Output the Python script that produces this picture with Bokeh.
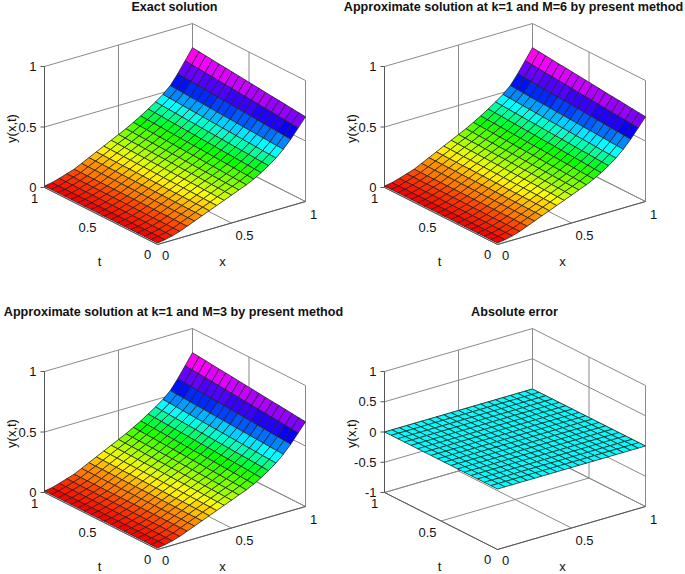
import colorsys
import numpy as np
from bokeh.plotting import figure
from bokeh.layouts import row, column
from bokeh.models import ColumnDataSource
from bokeh.core.properties import value
from bokeh.embed import file_html
from bokeh.resources import INLINE

titles = ["Exact solution", "Approximate solution at k=1 and M=6 by present method",
          "Approximate solution at k=1 and M=3 by present method", "Absolute error"]
x_nodes = [i / 20 for i in range(21)]
t_nodes = [j / 17 for j in range(18)]
x_ticks = [0, 0.5, 1]
t_ticks = [0, 0.5, 1]
z_ticks_a = [0, 0.5, 1]
z_ticks_b = [-1, -0.5, 0, 0.5, 1]

# z[j][i]: row j = t node, column i = x node
z_exact = [
 [.012,.022,.036,.055,.080,.105,.130,.155,.180,.205,.230,.255,.280,.310,.345,.385,.430,.485,.550,.625,.700],
 [.012,.022,.036,.055,.080,.105,.131,.156,.181,.206,.232,.257,.283,.313,.348,.388,.433,.488,.554,.630,.706],
 [.012,.022,.036,.056,.080,.106,.131,.157,.182,.208,.234,.259,.285,.316,.351,.391,.436,.491,.558,.635,.712],
 [.012,.022,.037,.056,.080,.106,.132,.158,.184,.209,.235,.261,.288,.319,.355,.395,.440,.495,.562,.640,.718],
 [.012,.022,.037,.056,.080,.106,.132,.159,.185,.211,.237,.263,.291,.322,.358,.398,.443,.498,.566,.645,.724],
 [.012,.022,.037,.056,.080,.106,.133,.159,.186,.212,.239,.265,.293,.325,.361,.401,.446,.501,.571,.650,.729],
 [.012,.022,.037,.057,.080,.107,.134,.160,.187,.214,.241,.267,.296,.328,.364,.404,.449,.504,.575,.655,.735],
 [.012,.022,.038,.057,.080,.107,.134,.161,.188,.215,.242,.269,.299,.331,.368,.408,.453,.508,.579,.660,.741],
 [.012,.022,.038,.057,.080,.107,.135,.162,.189,.217,.244,.271,.301,.334,.371,.411,.456,.511,.583,.665,.747],
 [.012,.022,.038,.058,.080,.108,.135,.163,.191,.218,.246,.274,.304,.336,.374,.414,.459,.514,.587,.670,.753],
 [.012,.022,.038,.058,.080,.108,.136,.164,.192,.220,.248,.276,.306,.339,.377,.417,.462,.517,.591,.675,.759],
 [.012,.022,.039,.058,.080,.108,.136,.165,.193,.221,.249,.278,.309,.342,.381,.421,.466,.521,.595,.680,.765],
 [.012,.022,.039,.059,.080,.109,.137,.166,.194,.223,.251,.280,.312,.345,.384,.424,.469,.524,.599,.685,.771],
 [.012,.022,.039,.059,.080,.109,.138,.166,.195,.224,.253,.282,.314,.348,.387,.427,.472,.527,.604,.690,.776],
 [.012,.022,.039,.059,.080,.109,.138,.167,.196,.226,.255,.284,.317,.351,.390,.430,.475,.530,.608,.695,.782],
 [.012,.022,.040,.059,.080,.109,.139,.168,.198,.227,.256,.286,.320,.354,.394,.434,.479,.534,.612,.700,.788],
 [.012,.022,.040,.060,.080,.110,.139,.169,.199,.229,.258,.288,.322,.357,.397,.437,.482,.537,.616,.705,.794],
 [.012,.022,.040,.060,.080,.110,.140,.170,.200,.230,.260,.290,.325,.360,.400,.440,.485,.540,.620,.710,.800],
]
z_m6 = z_exact
z_m3 = z_exact
z_error = [[0.0] * 21 for _ in range(18)]

# colour lookup: share of the z range -> position in the hsv map
band_share = [0, .21, .40, .55, .675, .775, .8875, 1]
band_hue = [0, .167, .33, .52, .67, .75, .85, 1]

FONT = value("Liberation Sans")
LEFT, FRONT, RIGHT = (44, 187), (157, 244), (305, 201)
ZPX = 121
GRID = "#8a8a8a"
DARK = "#555555"


def hsv_hex(f):
    f = min(int(f * 64), 63) / 64
    r, g, b = colorsys.hsv_to_rgb(f, 1, 1)
    return "#%02x%02x%02x" % (round(r * 255), round(g * 255), round(b * 255))


def panel(title, z, zticks, ox, oy, w, h, title_cx, flat_h=None):
    p = figure(width=w, height=h, x_range=(ox, ox + w), y_range=(oy + h, oy),
               output_backend="svg", toolbar_location=None, min_border=0)
    p.axis.visible = False
    p.grid.visible = False
    p.outline_line_color = None
    p.background_fill_color = None
    zlo, zhi = zticks[0], zticks[-1]
    ox0 = 340 if ox > 0 else 0

    def pr(x, t, zz):
        sx = FRONT[0] + x * (RIGHT[0] - FRONT[0]) + t * (LEFT[0] - FRONT[0])
        sy = FRONT[1] + x * (RIGHT[1] - FRONT[1]) + t * (LEFT[1] - FRONT[1])
        return ox0 + sx, oy + sy - (zz - zlo) / (zhi - zlo) * ZPX

    def seg(a, b, color, lw=1.0):
        A, B = pr(*a), pr(*b)
        p.line([A[0], B[0]], [A[1], B[1]], line_color=color, line_width=lw)

    # walls
    for zz in zticks:
        seg((0, 1, zz), (1, 1, zz), GRID)
        seg((1, 1, zz), (1, 0, zz), GRID)
    for v in x_ticks:
        seg((v, 1, zlo), (v, 1, zhi), GRID)
        seg((v, 1, zlo), (v, 0, zlo), GRID)
    for v in t_ticks:
        seg((1, v, zlo), (1, v, zhi), GRID)
        seg((0, v, zlo), (1, v, zlo), GRID)
    # axes
    seg((0, 1, zlo), (0, 1, zhi), DARK)
    seg((0, 0, zlo), (1, 0, zlo), DARK)
    seg((0, 0, zlo), (0, 1, zlo), DARK)
    for zz in zticks:
        A = pr(0, 1, zz)
        p.line([A[0] - 4, A[0]], [A[1], A[1]], line_color=DARK)

    # surface, painted back to front
    zmax = max(max(r) for r in z)
    nx, nt = len(x_nodes) - 1, len(t_nodes) - 1
    cells = sorted(((i, j) for i in range(nx) for j in range(nt)),
                   key=lambda c: -(c[0] / nx + c[1] / nt))
    xs, ys, cols = [], [], []
    for i, j in cells:
        corners = [(i, j), (i + 1, j), (i + 1, j + 1), (i, j + 1)]
        pts = [pr(x_nodes[a], t_nodes[b], z[b][a]) for a, b in corners]
        xs.append([q[0] for q in pts])
        ys.append([q[1] for q in pts])
        if flat_h is not None:
            cols.append(hsv_hex(flat_h))
        else:
            cols.append(hsv_hex(float(np.interp(z[j][i] / zmax, band_share, band_hue))))
    src = ColumnDataSource(dict(xs=xs, ys=ys, c=cols))
    p.patches("xs", "ys", source=src, fill_color="c", line_color="#222222", line_width=0.8)

    # labels
    def txt(x, y, s, size, align="center", font_style="normal", angle=0):
        p.text([x], [y], text=[s], text_font=FONT, text_font_size=size, text_align=align,
               text_baseline="middle", text_font_style=font_style, text_color="#111111", angle=angle)

    txt(title_cx, oy + 6, title, "12.6px", font_style="bold")
    for zz in zticks:
        A = pr(0, 1, zz)
        txt(A[0] - 8, A[1], ("%g" % zz), "13px", align="right")
    for v, s, (dx, dy) in zip(t_ticks, ["0", "0.5", "1"], [(147 - 157, 254 - 244), (87 - 100.5, 227 - 215.5), (34 - 44, 198 - 187)]):
        A = pr(0, v, zlo)
        txt(A[0] + dx, A[1] + dy, s, "13px")
    for v, s, (dx, dy) in zip(x_ticks, ["0", "0.5", "1"], [(165 - 157, 255 - 244), (244 - 231, 235 - 222.5), (313 - 305, 214 - 201)]):
        A = pr(v, 0, zlo)
        txt(A[0] + dx, A[1] + dy, s, "13px")
    txt(ox0 + 99, oy + 261, "t", "13px")
    txt(ox0 + 222, oy + 261, "x", "13px")
    txt(ox0 + 11, oy + 128, "y(x,t)", "13px", angle=1.5708)
    return p


p1 = panel(titles[0], z_exact, z_ticks_a, 0, 0, 340, 305, 174)
p2 = panel(titles[1], z_m6, z_ticks_a, 340, 0, 345, 305, 513)
p3 = panel(titles[2], z_m3, z_ticks_a, 0, 305, 345, 269, 173)
p4 = panel(titles[3], z_error, z_ticks_b, 345, 305, 340, 269, 514, flat_h=0.5)
page = column(row(p1, p2, spacing=0), row(p3, p4, spacing=0), spacing=0, margin=(0, 0, 0, 0))
open("out.html", "w").write(file_html(page, INLINE))
